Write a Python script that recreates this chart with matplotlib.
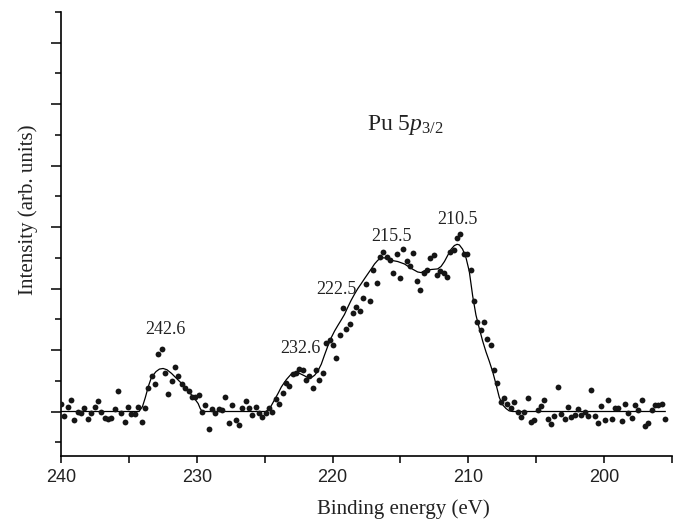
import numpy as np
import matplotlib
matplotlib.use("Agg")
import matplotlib.pyplot as plt
from matplotlib.ticker import MultipleLocator, FixedLocator

# ---- data ----
intensity = [
    0.12, -0.07, 0.08, 0.18, -0.14, 0.00, -0.02, 0.06, -0.13, -0.03,
    0.08, 0.17, 0.00, -0.11, -0.12, -0.11, 0.04, 0.34, -0.02, -0.17,
    0.08, -0.04, -0.04, 0.08, -0.17, 0.06, 0.39, 0.57, 0.44, 0.93,
    1.02, 0.63, 0.29, 0.50, 0.72, 0.58, 0.45, 0.39, 0.33, 0.23,
    0.23, 0.27, 0.00, 0.11, -0.28, 0.04, -0.02, 0.04, 0.02, 0.24,
    -0.18, 0.11, -0.14, -0.22, 0.06, 0.17, 0.06, -0.05, 0.08, -0.02,
    -0.09, -0.02, 0.06, -0.01, 0.20, 0.12, 0.30, 0.46, 0.41, 0.61,
    0.62, 0.69, 0.67, 0.51, 0.58, 0.38, 0.67, 0.51, 0.63, 1.11,
    1.16, 1.08, 0.87, 1.24, 1.68, 1.34, 1.42, 1.60, 1.70, 1.63,
    1.84, 2.07, 1.79, 2.30, 2.09, 2.52, 2.60, 2.52, 2.47, 2.26,
    2.56, 2.17, 2.65, 2.45, 2.36, 2.58, 2.13, 1.98, 2.26, 2.31,
    2.49, 2.54, 2.22, 2.29, 2.25, 2.19, 2.60, 2.63, 2.83, 2.89,
    2.57, 2.57, 2.31, 1.80, 1.45, 1.33, 1.45, 1.18, 1.09, 0.67,
    0.47, 0.15, 0.22, 0.12, 0.06, 0.15, 0.00, -0.09, -0.01, 0.22,
    -0.17, -0.14, 0.02, 0.09, 0.19, -0.12, -0.20, -0.08, 0.40, -0.04,
    -0.13, 0.07, -0.09, -0.05, 0.04, -0.05, -0.01, -0.07, 0.35, -0.07,
    -0.19, 0.09, -0.14, 0.19, -0.12, 0.06, 0.06, -0.15, 0.12, -0.02,
    -0.11, 0.10, 0.02, 0.18, -0.24, -0.18, 0.03, 0.11, 0.11, 0.12,
    -0.13,
]
energy_start = 240.0
energy_end = 195.5
energy = np.linspace(energy_start, energy_end, len(intensity))

fit_energy = [
    240.0, 234.25, 234.0, 233.8, 233.55, 233.33, 233.0, 232.75, 232.48, 232.2,
    231.86, 231.5, 231.13, 230.75, 230.39, 230.1, 229.9, 229.75, 229.6, 224.9,
    224.6, 224.3, 224.0, 223.77, 223.4, 223.04, 222.79, 222.43, 222.06, 221.81,
    221.57, 221.32, 221.08, 220.83, 220.59, 220.34, 220.10, 219.85, 219.61, 219.36,
    219.12, 218.87, 218.63, 218.38, 218.14, 217.89, 217.65, 217.40, 217.15, 216.91,
    216.67, 216.42, 216.18, 215.9, 215.68, 215.2, 214.7, 214.22, 213.73, 213.48,
    213.24, 212.75, 212.26, 212.01, 211.76, 211.52, 211.27, 211.03, 210.83, 210.66,
    210.42, 210.17, 209.93, 209.68, 209.44, 209.19, 208.95, 208.70, 208.46, 208.21,
    207.97, 207.72, 207.48, 207.23, 206.99, 206.74, 195.5,
]
fit_intensity = [
    0.0, 0.0, 0.08, 0.22, 0.42, 0.56, 0.65, 0.69, 0.70, 0.68,
    0.62, 0.54, 0.46, 0.37, 0.27, 0.19, 0.13, 0.05, 0.0, 0.0,
    0.06, 0.18, 0.30, 0.40, 0.52, 0.61, 0.63, 0.62, 0.58, 0.55,
    0.55, 0.59, 0.66, 0.77, 0.92, 1.07, 1.20, 1.31, 1.40, 1.49,
    1.58, 1.70, 1.81, 1.91, 2.00, 2.08, 2.16, 2.24, 2.32, 2.40,
    2.46, 2.50, 2.50, 2.48, 2.46, 2.44, 2.40, 2.33, 2.27, 2.26,
    2.29, 2.31, 2.32, 2.36, 2.44, 2.54, 2.64, 2.70, 2.72, 2.71,
    2.64, 2.50, 2.28, 1.88, 1.57, 1.35, 1.15, 0.97, 0.82, 0.65,
    0.45, 0.23, 0.11, 0.05, 0.01, 0.0, 0.0,
]

peak_labels = ["242.6", "232.6", "222.5", "215.5", "210.5"]
peak_label_x = [232.34, 222.40, 219.75, 215.63, 210.77]
peak_label_y = [1.33, 1.03, 1.98, 2.85, 3.13]

x_ticks = [240, 230, 220, 210, 200]
title_text = r"Pu 5$\mathit{p}_{3/2}$"
xlabel = "Binding energy (eV)"
ylabel = "Intensity (arb. units)"

# ---- figure ----
plt.rcParams["mathtext.fontset"] = "custom"
plt.rcParams["mathtext.rm"] = "Liberation Serif"
plt.rcParams["mathtext.it"] = "Liberation Serif:italic"

fig = plt.figure(figsize=(6.78, 5.24), dpi=100)
ax = fig.add_axes([61 / 678, (524 - 456) / 524, (672 - 61) / 678, (456 - 12) / 524])

ax.plot(fit_energy, fit_intensity, color="black", lw=0.9, zorder=2)
ax.plot(energy, intensity, "o", color="#151515", ms=4.2, mew=0, zorder=3)

for t, x, y in zip(peak_labels, peak_label_x, peak_label_y):
    ax.text(x, y, t, ha="center", va="center", fontsize=13,
            family="Liberation Serif", color="#222222")

ax.text(217.47, 4.66, title_text, ha="left", va="center", fontsize=17,
        family="Liberation Serif", color="#222222")

ax.set_xlim(240, 195)
ax.set_ylim(-0.724, 6.5)

ax.xaxis.set_major_locator(FixedLocator(x_ticks))
ax.xaxis.set_minor_locator(MultipleLocator(5))
ax.yaxis.set_major_locator(MultipleLocator(1))
ax.yaxis.set_minor_locator(MultipleLocator(0.5))
ax.set_yticklabels([])

for s in ["top", "right"]:
    ax.spines[s].set_visible(False)
for s in ["left", "bottom"]:
    ax.spines[s].set_linewidth(1.2)

ax.tick_params(axis="x", which="major", direction="out", length=5, width=1.1,
               pad=4, labelsize=13)
ax.tick_params(axis="x", which="minor", direction="out", length=5, width=1.1)
ax.tick_params(axis="y", which="major", direction="out", length=7, width=1.1,
               labelleft=False)
ax.tick_params(axis="y", which="minor", direction="out", length=4.5, width=1.1)
for lab in ax.get_xticklabels():
    lab.set_family("Liberation Sans")
    lab.set_color("#222222")

ax.set_xlabel(xlabel, fontsize=15, family="Liberation Serif", color="#222222")
ax.xaxis.set_label_coords(0.561, -0.097)
ax.set_ylabel(ylabel, fontsize=15, family="Liberation Serif", color="#222222")
ax.yaxis.set_label_coords(-0.054, 0.554)
ax.yaxis.label.set_verticalalignment("center")

fig.savefig("out.png", dpi=100)
